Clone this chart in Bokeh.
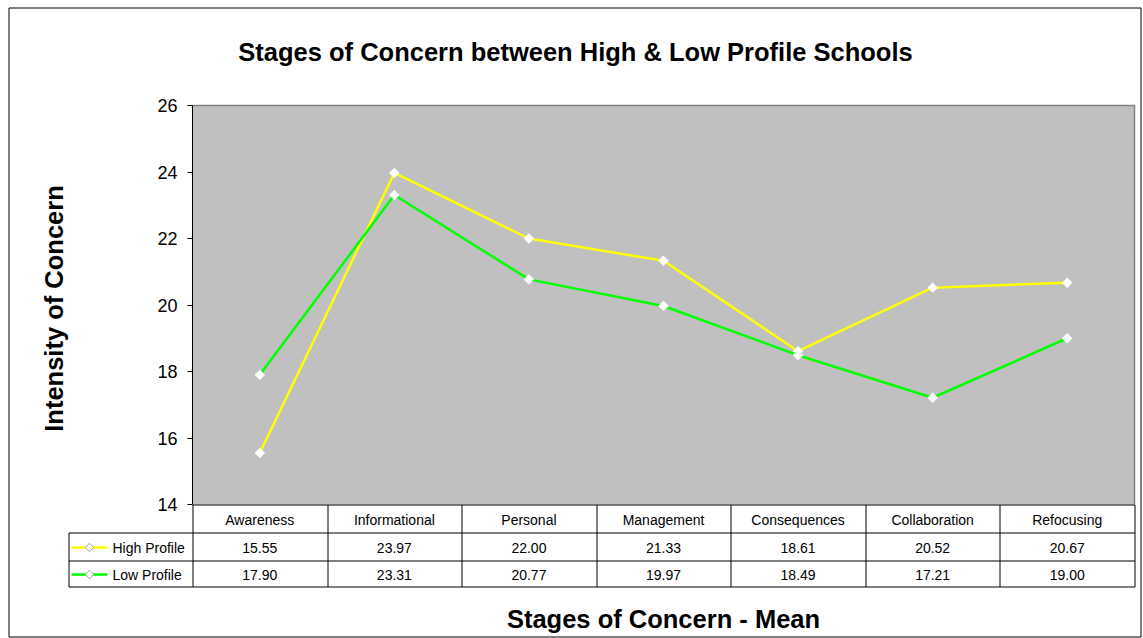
import math
from bokeh.plotting import figure
from bokeh.models import Range1d, FixedTicker, Label
from bokeh.core.properties import value
from bokeh.embed import file_html
from bokeh.resources import INLINE

# ---------------- data ----------------
categories = ["Awareness", "Informational", "Personal", "Management",
              "Consequences", "Collaboration", "Refocusing"]
high_profile = [15.55, 23.97, 22.00, 21.33, 18.61, 20.52, 20.67]
low_profile = [17.90, 23.31, 20.77, 19.97, 18.49, 17.21, 19.00]
y_ticks = [14, 16, 18, 20, 22, 24, 26]
series_names = ["High Profile", "Low Profile"]
series_colors = ["#FFFF00", "#00FF00"]
title_text = "Stages of Concern between High & Low Profile Schools"
y_title = "Intensity of Concern"
x_title = "Stages of Concern - Mean"

# ---------------- layout (page pixels) ----------------
PW, PH = 1143, 638
X_L, X_R, Y_T, Y_B = 192, 1134, 105, 504      # grey plot area
FONT = "Liberation Sans"
n = len(categories)
cw = (X_R - X_L) / n
ymin, ymax = y_ticks[0], y_ticks[-1]


def px_x(X):
    return -0.5 + (X - X_L) / cw


def px_y(Y):
    return ymin + (Y_B - Y) * (ymax - ymin) / (Y_B - Y_T)


p = figure(width=PW, height=PH,
           x_range=Range1d(px_x(0), px_x(PW)),
           y_range=Range1d(px_y(PH), px_y(0)),
           output_backend="svg", toolbar_location=None,
           x_axis_location=None, y_axis_location="left",
           min_border=0, min_border_left=0, min_border_right=0,
           min_border_top=0, min_border_bottom=0,
           background_fill_color="white", border_fill_color="white",
           outline_line_color=None)
p.grid.visible = False

xs = list(range(n))
x_lo, x_hi = xs[0] - 0.5, xs[-1] + 0.5

# grey plotting area
p.quad(left=[x_lo], right=[x_hi], bottom=[ymin], top=[ymax],
       fill_color="#C0C0C0", line_color=None)
p.line([x_lo, x_hi, x_hi], [ymax, ymax, ymin], line_color="#808080", line_width=1.5)

# y axis placed at plot-area left edge
ya = p.yaxis[0]
ya.fixed_location = x_lo
ya.bounds = (ymin, ymax)
ya.ticker = FixedTicker(ticks=y_ticks)
ya.minor_tick_line_color = None
ya.major_tick_in = 0
ya.major_tick_out = 5
ya.axis_line_color = "black"
ya.major_tick_line_color = "black"
ya.major_label_text_font = FONT
ya.major_label_text_font_size = "18px"
ya.major_label_text_color = "black"
ya.major_label_standoff = 10

# ---------------- series ----------------
for vals, color in zip([high_profile, low_profile], series_colors):
    p.line(xs, vals, line_color=color, line_width=2.5)
for vals in [high_profile, low_profile]:
    p.scatter(xs, vals, marker="square", angle=math.pi / 4, size=7,
              fill_color="white", line_color="white", line_width=0.5)

# ---------------- outer border ----------------
p.quad(left=[px_x(8.5)], right=[px_x(1140.5)], bottom=[px_y(636.5)], top=[px_y(7.5)],
       fill_color=None, line_color="black", line_width=1)


def label(t, X, Y, size, bold=False, align="center", baseline="middle", angle=0.0):
    p.add_layout(Label(x=px_x(X), y=px_y(Y), text=t, text_font=FONT,
                       text_font_size=size,
                       text_font_style="bold" if bold else "normal",
                       text_color="black", text_align=align,
                       text_baseline=baseline, angle=angle))


# ---------------- titles ----------------
label(title_text, 575, 51, "25.5px", bold=True, baseline="alphabetic")
label(x_title, 663, 618, "25.5px", bold=True, baseline="alphabetic")
label(y_title, 53, 308, "25.5px", bold=True, baseline="alphabetic", angle=math.pi / 2)

# ---------------- data table ----------------
rows = [504.5, 532.5, 560.5, 586.5]
LEG_L = 68.5
hx0 = [px_x(X_L), px_x(LEG_L), px_x(LEG_L), px_x(LEG_L)]
hx1 = [px_x(X_R + 0.5)] * 4
hy = [px_y(Y) for Y in rows]
p.segment(x0=hx0, y0=hy, x1=hx1, y1=hy, line_color="black", line_width=1)
vxs = [px_x(LEG_L)] + [px_x(round(X_L + k * cw) + 0.5) for k in range(n + 1)]
vy0 = [px_y(rows[1])] + [px_y(rows[0])] * (n + 1)
vy1 = [px_y(rows[3])] * (n + 2)
p.segment(x0=vxs, y0=vy0, x1=vxs, y1=vy1, line_color="black", line_width=1)

row_c = [(rows[i] + rows[i + 1]) / 2 + 0.5 for i in range(3)]
tstyle = dict(text_font=value(FONT), text_font_size=value("14px"),
              text_color="black", text_align="center", text_baseline="middle")
p.text(x=xs, y=[px_y(row_c[0])] * n, text=categories, **tstyle)
p.text(x=xs, y=[px_y(row_c[1])] * n, text=[f"{v:.2f}" for v in high_profile], **tstyle)
p.text(x=xs, y=[px_y(row_c[2])] * n, text=[f"{v:.2f}" for v in low_profile], **tstyle)

# legend keys inside the table
for r, (name, color) in enumerate(zip(series_names, series_colors)):
    yc = px_y(row_c[r + 1])
    p.segment(x0=[px_x(71)], y0=[yc], x1=[px_x(107)], y1=[yc], line_color=color, line_width=2.5)
    p.scatter([px_x(89)], [yc], marker="square", angle=math.pi / 4, size=6,
              fill_color="white", line_color="#A0A0A0", line_width=1)
    label(name, 112, row_c[r + 1], "14px", align="left")

open("out.html", "w").write(file_html(p, INLINE))
